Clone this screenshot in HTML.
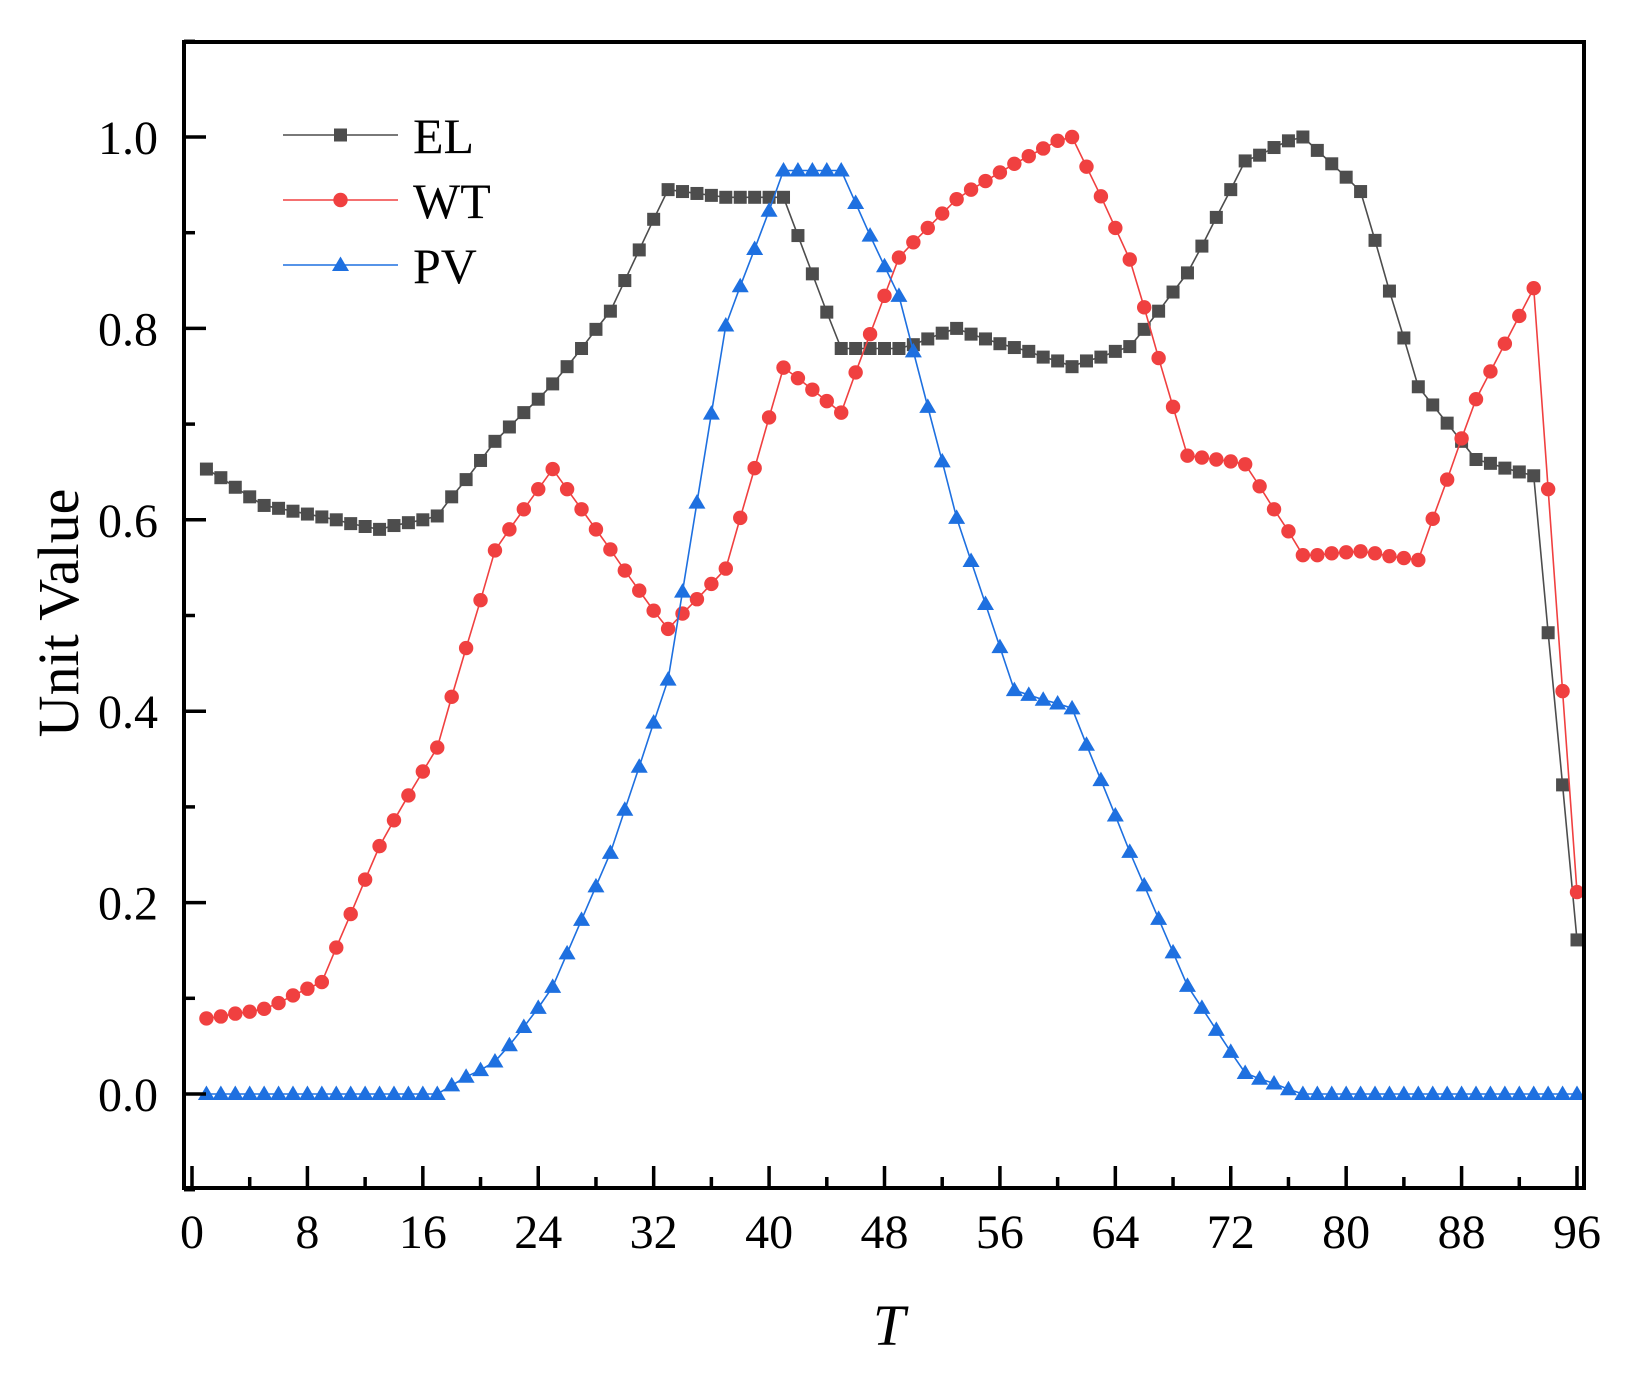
<!DOCTYPE html>
<html><head><meta charset="utf-8"><style>
html,body{margin:0;padding:0;background:#fff;}
svg{display:block;font-family:"Liberation Serif",serif;}
</style></head><body>
<svg id="chart" width="1632" height="1377" viewBox="0 0 1632 1377" xmlns="http://www.w3.org/2000/svg">
<g id="plot"></g>
<g id="axes"></g>
<g id="legend"></g>
</svg>
<script>
const xTicks = [0,8,16,24,32,40,48,56,64,72,80,88,96];
const yTicks = [0.0,0.2,0.4,0.6,0.8,1.0];
const yTickLabels = ["0.0","0.2","0.4","0.6","0.8","1.0"];
const seriesNames = ["EL","WT","PV"];
const elValues = [0.653,0.644,0.634,0.624,0.615,0.612,0.609,0.606,0.603,0.600,0.596,0.593,0.590,0.594,0.597,0.600,0.604,0.624,0.642,0.662,0.682,0.697,0.712,0.726,0.742,0.760,0.779,0.799,0.818,0.850,0.882,0.914,0.945,0.943,0.941,0.939,0.937,0.937,0.937,0.937,0.937,0.897,0.857,0.817,0.779,0.779,0.779,0.779,0.779,0.783,0.789,0.795,0.800,0.794,0.789,0.784,0.780,0.776,0.770,0.766,0.760,0.766,0.770,0.776,0.781,0.799,0.818,0.838,0.858,0.886,0.916,0.945,0.975,0.981,0.989,0.996,1.0,0.986,0.972,0.958,0.943,0.892,0.839,0.790,0.739,0.720,0.701,0.682,0.663,0.659,0.654,0.650,0.646,0.482,0.323,0.161];
const wtValues = [0.079,0.081,0.084,0.086,0.089,0.095,0.103,0.110,0.117,0.153,0.188,0.224,0.259,0.286,0.312,0.337,0.362,0.415,0.466,0.516,0.568,0.590,0.611,0.632,0.653,0.632,0.611,0.590,0.569,0.547,0.526,0.505,0.486,0.502,0.517,0.533,0.549,0.602,0.654,0.707,0.759,0.748,0.736,0.724,0.712,0.754,0.794,0.834,0.874,0.890,0.905,0.920,0.935,0.945,0.954,0.963,0.972,0.980,0.988,0.996,1.0,0.969,0.938,0.905,0.872,0.822,0.769,0.718,0.667,0.665,0.663,0.661,0.658,0.635,0.611,0.588,0.563,0.563,0.565,0.566,0.567,0.565,0.562,0.560,0.558,0.601,0.642,0.685,0.726,0.755,0.784,0.813,0.842,0.632,0.421,0.211];
const pvValues = [0,0,0,0,0,0,0,0,0,0,0,0,0,0,0,0,0,0.009,0.018,0.025,0.034,0.051,0.070,0.090,0.112,0.147,0.182,0.217,0.252,0.297,0.342,0.388,0.433,0.525,0.618,0.711,0.803,0.844,0.883,0.923,0.965,0.965,0.965,0.965,0.965,0.931,0.897,0.865,0.834,0.776,0.718,0.661,0.602,0.557,0.512,0.467,0.422,0.417,0.412,0.408,0.403,0.365,0.328,0.291,0.253,0.218,0.183,0.148,0.113,0.090,0.067,0.044,0.022,0.016,0.011,0.005,0,0,0,0,0,0,0,0,0,0,0,0,0,0,0,0,0,0,0,0];

const NS="http://www.w3.org/2000/svg";
const L=184,R=1584,T=42,B=1188;
function sx(v){return 192+v*(1577-192)/96;}
function sy(v){return 1094-v*957;}
function mk(tag,attrs,parent){const e=document.createElementNS(NS,tag);for(const k in attrs)e.setAttribute(k,attrs[k]);parent.appendChild(e);return e;}
const plot=document.getElementById('plot'),axes=document.getElementById('axes'),legend=document.getElementById('legend');
const colors={EL:"#4d4d4d",WT:"#f04040",PV:"#1e70e0"};
function marker(name,x,y,parent){
  let e;
  if(name==="EL"){e=mk('rect',{x:x-6.5,y:y-6.5,width:13,height:13,fill:colors.EL},parent);}
  else if(name==="WT"){e=mk('circle',{cx:x,cy:y,r:7.2,fill:colors.WT},parent);}
  else {e=mk('polygon',{points:`${x},${y-8.5} ${x+8.5},${y+6} ${x-8.5},${y+6}`,fill:colors.PV},parent);}
  return e;
}
const all={EL:elValues,WT:wtValues,PV:pvValues};
seriesNames.forEach(name=>{
  const vals=all[name];
  const g=mk('g',{},plot);
  
  
  const pts=vals.map((v,i)=>sx(i+1)+','+sy(v)).join(' ');
  const pl=mk('polyline',{points:pts,fill:'none',stroke:colors[name],'stroke-width':1.6},g);
  
  
  vals.forEach((v,i)=>{
    const m=marker(name,sx(i+1),sy(v),g);
    
    
  });
});
const fr=mk('rect',{x:L,y:T,width:R-L,height:B-T,fill:'none',stroke:'#000','stroke-width':4},axes);


for(let v=0;v<=96;v+=4){
  const major=v%8===0;
  const t=mk('line',{x1:sx(v),x2:sx(v),y1:B,y2:B-(major?22:11),stroke:'#000','stroke-width':3.5},axes);
  
  
}
xTicks.forEach(v=>{
  const t=mk('text',{x:sx(v),y:1248,'font-size':48,'text-anchor':'middle'},axes);
  t.textContent=String(v);
  
  
});
for(let k=-1;k<=11;k++){
  const v=k/10;
  const major=k%2===0;
  const t=mk('line',{x1:L,x2:L+(major?22:11),y1:sy(v),y2:sy(v),stroke:'#000','stroke-width':3.5},axes);
  
  
}
yTicks.forEach((v,i)=>{
  const t=mk('text',{x:158,y:sy(v)+17,'font-size':48,'text-anchor':'end'},axes);
  t.textContent=yTickLabels[i];
  
  
});
const yt=mk('text',{x:78,y:613,'font-size':58,'text-anchor':'middle',transform:'rotate(-90 78 613)'},axes);
yt.textContent="Unit Value";


const xt=mk('text',{x:889,y:1345,'font-size':58,'font-style':'italic','text-anchor':'middle'},axes);
xt.textContent="T";


seriesNames.forEach((name,i)=>{
  const y=135+i*65;
  const g=mk('g',{},legend);
  
  
  mk('line',{x1:283,x2:398,y1:y,y2:y,stroke:colors[name],'stroke-width':1.6},g);
  marker(name,340.5,y,g);
  const t=mk('text',{x:413,y:y+18,'font-size':50},g);
  t.textContent=name;
});
</script>
</body></html>
